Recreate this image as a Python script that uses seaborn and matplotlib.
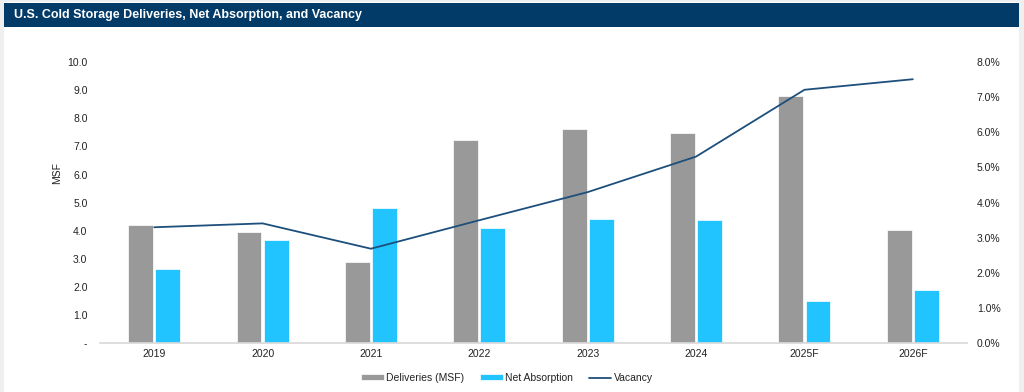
import numpy as np
import pandas as pd
import seaborn as sns
import matplotlib.pyplot as plt
from matplotlib.patches import Rectangle

sns.set_theme(style="white")
plt.rcParams['font.family'] = ['Liberation Sans', 'DejaVu Sans']

# Data
years = ['2019', '2020', '2021', '2022', '2023', '2024', '2025F', '2026F']
deliveries = [4.2, 3.96, 2.89, 7.22, 7.63, 7.49, 8.78, 4.03]
net_absorption = [2.65, 3.69, 4.81, 4.09, 4.43, 4.40, 1.52, 1.91]
vacancy = [3.30, 3.41, 2.69, 3.50, 4.30, 5.31, 7.21, 7.51]  # percent

left_ticks = [0, 1, 2, 3, 4, 5, 6, 7, 8, 9, 10]
right_ticks = [0, 1, 2, 3, 4, 5, 6, 7, 8]

bar_df = pd.DataFrame({
    'Year': years * 2,
    'MSF': deliveries + net_absorption,
    'Series': ['Deliveries (MSF)'] * len(years) + ['Net Absorption'] * len(years),
})

W, H = 1024, 392
fig = plt.figure(figsize=(W / 100, H / 100), dpi=100, facecolor='#efefef')

# white panel and navy title bar
fig.add_artist(Rectangle((4 / W, 0), 1015 / W, 1 - 2 / H, transform=fig.transFigure,
                         facecolor='white', edgecolor='none', zorder=0))
fig.add_artist(Rectangle((4 / W, 1 - 27 / H), 1015 / W, 24 / H, transform=fig.transFigure,
                         facecolor='#023a68', edgecolor='none', zorder=1))
fig.text(14 / W, 1 - 15 / H, 'U.S. Cold Storage Deliveries, Net Absorption, and Vacancy',
         color='white', fontsize=9, fontweight='bold', va='center', ha='left')

ax = fig.add_axes([100 / W, 1 - 343.3 / H, 867 / W, (343.3 - 62) / H])
ax.set_facecolor('none')

sns.barplot(data=bar_df, x='Year', y='MSF', hue='Series', ax=ax,
            palette=['#999999', '#21c4ff'], width=0.5, gap=0.08,
            edgecolor='white', linewidth=0.5, saturation=1)

ax2 = ax.twinx()
sns.lineplot(x=np.arange(len(years)), y=vacancy, ax=ax2, color='#1d4f7c',
             linewidth=1.3, label='Vacancy')

ax.set_xlim(-0.5, len(years) - 0.5)
ax.set_ylim(0, 10)
ax2.set_ylim(0, 8)
ax.set_yticks(left_ticks)
ax.set_yticklabels(['-' if t == 0 else f'{t:.1f}' for t in left_ticks])
ax2.set_yticks(right_ticks)
ax2.set_yticklabels([f'{t:.1f}%' for t in right_ticks])

ax.set_xlabel('')
ax.set_ylabel('MSF', fontsize=7.5, color='#222222')
ax.yaxis.set_label_coords(-0.044, 0.605)
ax2.set_ylabel('')

ax.tick_params(axis='x', length=0, pad=4, labelsize=7.5, labelcolor='#222222')
ax.tick_params(axis='y', length=0, pad=9, labelsize=7.5, labelcolor='#222222')
ax2.tick_params(axis='y', length=0, pad=7, labelsize=7.5, labelcolor='#222222')

for a in (ax, ax2):
    for s in ('top', 'left', 'right'):
        a.spines[s].set_visible(False)
ax.spines['bottom'].set_color('#d9d9d9')
ax2.spines['bottom'].set_visible(False)

h1, l1 = ax.get_legend_handles_labels()
h2, l2 = ax2.get_legend_handles_labels()
ax.get_legend().remove()
ax2.get_legend().remove()
fig.legend(h1 + h2, l1 + l2, loc='center', bbox_to_anchor=(507 / W, 1 - 378 / H),
           ncol=3, frameon=False, fontsize=7.5, handlelength=2.2, handleheight=0.5,
           handletextpad=0.2, columnspacing=1.5, labelcolor='#222222')

fig.savefig('out.png', dpi=100, facecolor=fig.get_facecolor())
